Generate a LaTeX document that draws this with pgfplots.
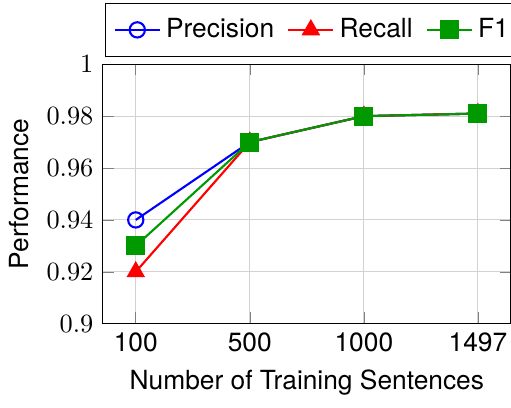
\documentclass[border=0pt]{standalone}
\usepackage{fontspec}
\setmainfont{TeX Gyre Heros}
\usepackage{pgfplots}
\pgfplotsset{compat=1.18}
\begin{document}
\begin{tikzpicture}
\begin{axis}[
  scale only axis,
  width=155pt, height=98.5pt,
  xmin=-0.29, xmax=3.29,
  ymin=0.9, ymax=1,
  xtick={0,1,2,3},
  xticklabels={100,500,1000,1497},
  ytick={0.9,0.92,0.94,0.96,0.98,1},
  grid=major,
  grid style={gray!35},
  xlabel={Number of Training Sentences},
  ylabel={Performance},
  legend columns=-1,
  legend style={at={(0,1)}, anchor=south west, xshift=1pt, yshift=2.7pt, font=\normalsize,
    name=leg, inner ysep=3.75pt,
    /tikz/every even column/.append style={column sep=3pt}},
]
\addplot[blue, thick, mark=o, mark size=2.9pt, mark options={solid}] coordinates {(0,0.94) (1,0.97) (2,0.98) (3,0.981)};
\addlegendentry{Precision}
\addplot[red, thick, mark=triangle*, mark size=3.3pt] coordinates {(0,0.92) (1,0.97) (2,0.98) (3,0.981)};
\addlegendentry{Recall}
\addplot[green!60!black, thick, mark=square*, mark size=3.2pt] coordinates {(0,0.93) (1,0.97) (2,0.98) (3,0.981)};
\addlegendentry{F1}
\end{axis}
\pgfresetboundingbox
\path[use as bounding box] ([yshift=-1pt]current axis.outer south west) rectangle ([xshift=0pt,yshift=1pt]current axis.east |- leg.north);
\end{tikzpicture}
\end{document}
